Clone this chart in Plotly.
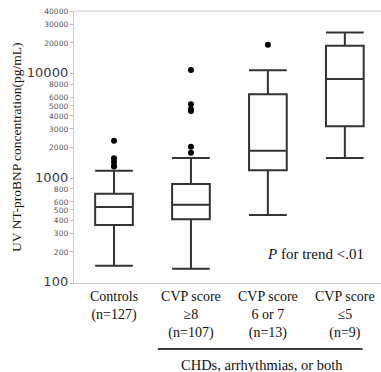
import plotly.graph_objects as go
import math

# ---- data ----
categories = ["Controls<br>(n=127)", "CVP score<br>≥8<br>(n=107)", "CVP score<br>6 or 7<br>(n=13)", "CVP score<br>≤5<br>(n=9)"]
q1 = [359, 407, 1197, 3160]
median = [534, 561, 1845, 8950]
q3 = [716, 886, 6390, 18600]
lower = [146, 137, 448, 1571]
upper = [1188, 1571, 10850, 24850]

outlier_group = [0, 0, 0, 0, 0, 1, 1, 1, 1, 1, 1, 2]
outlier_value = [2300, 1561, 1449, 1318, 1300, 10900, 5130, 4590, 4425, 2015, 1766, 19070]

ytick_vals = [100, 200, 300, 400, 500, 600, 800, 1000, 2000, 3000, 4000, 5000, 6000, 8000,
              10000, 20000, 30000, 40000]
major_ticks = [100, 1000, 10000]

xpos = list(range(len(categories)))

fig = go.Figure()
fig.add_trace(go.Box(
    x=xpos, q1=q1, median=median, q3=q3, lowerfence=lower, upperfence=upper,
    width=0.49, whiskerwidth=1, boxpoints=False,
    fillcolor="rgba(0,0,0,0)", line=dict(color="#333333", width=2),
    showlegend=False, hoverinfo="skip"))
fig.add_trace(go.Scatter(
    x=outlier_group, y=outlier_value, mode="markers",
    marker=dict(color="black", size=6), showlegend=False))

ticktext = []
for v in ytick_vals:
    if v in major_ticks:
        ticktext.append(f'<span style="font-size:13px;color:#3a3a3a">{v}</span>')
    else:
        ticktext.append(f'<span style="font-size:7.5px;color:#555555">{v}</span>')

serif = "Liberation Serif, Times New Roman, serif"

fig.update_layout(
    width=381, height=372,
    margin=dict(l=74, r=0, t=11, b=89),
    paper_bgcolor="white", plot_bgcolor="white",
    xaxis=dict(range=[-0.52, 3.47], tickvals=xpos, ticktext=categories,
               tickfont=dict(family=serif, size=14, color="#111111"),
               showline=True, linecolor="#cccccc", linewidth=1, automargin=False,
               showgrid=False, zeroline=False, ticks=""),
    yaxis=dict(type="log", range=[2, math.log10(40000)],
               tickvals=ytick_vals, ticktext=ticktext,
               tickfont=dict(family="DejaVu Sans, Verdana, sans-serif", size=9, color="#555555"),
               ticks="outside", ticklen=3, tickcolor="#bbbbbb", automargin=False,
               showline=True, linecolor="#cccccc", linewidth=1,
               showgrid=False, zeroline=False),
    shapes=[
        dict(type="line", xref="paper", yref="paper", x0=0, x1=1, y0=1, y1=1,
             line=dict(color="#cccccc", width=1)),
        dict(type="line", xref="x", yref="paper", x0=0.57, x1=3.23, y0=-0.243, y1=-0.243,
             line=dict(color="black", width=1.5)),
    ],
    annotations=[
        dict(text="UV NT-proBNP concentration(pg/mL)", xref="paper", yref="paper",
             x=-0.189, y=0.5, textangle=-90, xanchor="center", yanchor="middle",
             showarrow=False, font=dict(family=serif, size=13.5, color="#111111")),
        dict(text="<i>P</i> for trend <.01", xref="paper", yref="y", x=0.95, y=math.log10(190),
             xanchor="right", yanchor="middle", showarrow=False,
             font=dict(family=serif, size=15, color="#111111")),
        dict(text="CHDs, arrhythmias, or both", xref="x", yref="paper", x=1.92, y=-0.302,
             xanchor="center", yanchor="middle", showarrow=False,
             font=dict(family=serif, size=14.5, color="#111111")),
    ],
)

fig.write_html("out.html",
               config={"displayModeBar": False},
               post_script="document.body.style.margin='0';document.body.style.overflow='hidden';")
